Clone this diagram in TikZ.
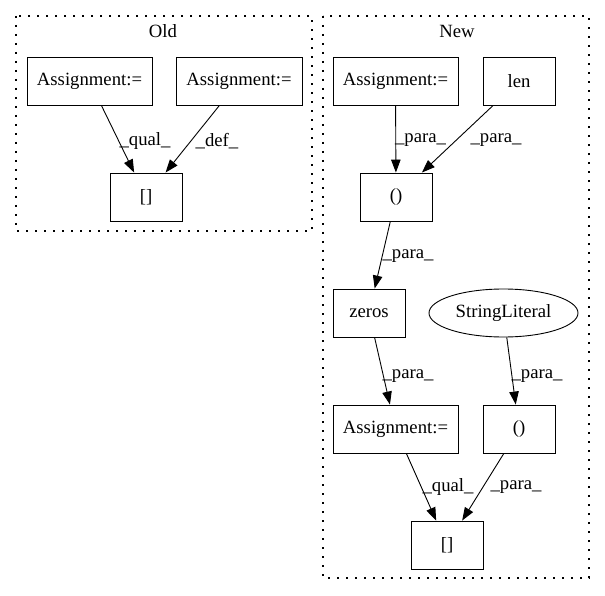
\documentclass[tikz,border=0pt]{standalone}
\usepackage{fontspec}
\setmainfont{Liberation Serif}
\usetikzlibrary{arrows.meta,shapes.geometric}

\begin{document}
\begin{tikzpicture}[x=1pt,y=-1pt]
  \tikzstyle{boite}=[draw, line width=0.9pt, minimum height=48pt, inner sep=0, font=\fontsize{18.7}{22}\selectfont];
  \tikzstyle{ovale}=[boite, ellipse, minimum width=149pt];
  \tikzstyle{etiq}=[inner sep=0, font=\fontsize{18.7}{22}\selectfont];
  \tikzstyle{fleche}=[line width=0.9pt, -{Triangle[length=13pt,width=9.5pt]}];
  \tikzstyle{groupe}=[line width=1.3pt, dash pattern=on 1.8pt off 7.2pt];

  \useasboundingbox (0,0) rectangle (605,596);

  % clusters
  \draw[groupe] (16,16) rectangle (312,231);
  \draw[groupe] (323,16) rectangle (589,578);
  \node[etiq] (titreold) at (163,31) {Old};
  \node[etiq] (titrenew) at (457,31) {New};

  % Old
  \node[boite, minimum width=125pt] (oa1) at (89.5,81) {Assignment:=};
  \node[boite, minimum width=126pt] (oa2) at (239,81) {Assignment:=};
  \node[boite, minimum width=72pt] (ob) at (146,197) {[]};

  % New
  \node[boite, minimum width=125pt] (na) at (395.5,81) {Assignment:=};
  \node[boite, minimum width=72pt] (len) at (519,81) {len};
  \node[boite, minimum width=72pt] (np) at (396,197) {()};
  \node[boite, minimum width=72pt] (zeros) at (369,313) {zeros};
  \node[ovale] (sl) at (503.5,313) {StringLiteral};
  \node[boite, minimum width=125pt] (na2) at (395.5,429) {Assignment:=};
  \node[boite, minimum width=72pt] (np2) at (519,429) {()};
  \node[boite, minimum width=72pt] (nb) at (447,545) {[]};

  \draw[fleche] (oa1) -- (ob);
  \draw[fleche] (oa2) -- (ob);
  \draw[fleche] (na) -- (np);
  \draw[fleche] (len) -- (np);
  \draw[fleche] (np) -- (zeros);
  \draw[fleche] (zeros) -- (na2);
  \draw[fleche] (sl) -- (np2);
  \draw[fleche] (na2) -- (nb);
  \draw[fleche] (np2) -- (nb);

  \node[etiq] (e1) at (145,141) {\_qual\_};
  \node[etiq] (e2) at (217,141) {\_def\_};
  \node[etiq] (e3) at (420.5,140) {\_para\_};
  \node[etiq] (e4) at (496,140) {\_para\_};
  \node[etiq] (e5) at (408,256) {\_para\_};
  \node[etiq] (e6) at (408,376) {\_para\_};
  \node[etiq] (e7) at (537,376) {\_para\_};
  \node[etiq] (e8) at (448,487) {\_qual\_};
  \node[etiq] (e9) at (516,487) {\_para\_};
\end{tikzpicture}
\end{document}
